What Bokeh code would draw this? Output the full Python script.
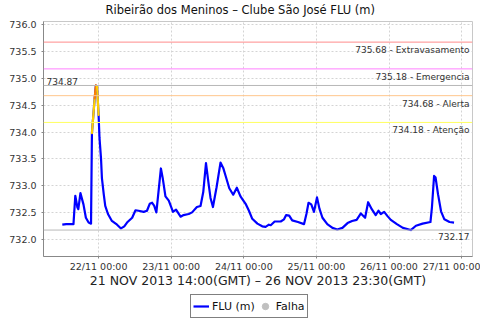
import pandas as pd
from bokeh.plotting import figure
from bokeh.layouts import column
from bokeh.models import (Range1d, FixedTicker, DatetimeTickFormatter, NumeralTickFormatter,
                          Span, Label, Legend, LegendItem)
from bokeh.embed import file_html
from bokeh.resources import INLINE

title_text = "Ribeirão dos Meninos – Clube São José FLU (m)"
axis_title = "21 NOV 2013 14:00(GMT) – 26 NOV 2013 23:30(GMT)"
series_name = "FLU (m)"
failure_name = "Falha"
start_local = "2013-11-21 00:00"

# hours after 21/11 00:00 (local time shown on the axis)
hours = [12.0, 13.3, 15.2, 15.7, 16.3, 17.0, 17.3, 18.0, 19.0, 19.8,
         20.7, 21.5, 21.8, 22.7, 23.1, 23.5, 24.0, 24.3, 24.8, 25.1,
         25.7, 26.2, 27.1, 28.4, 30.1, 31.4, 32.5, 33.4, 35.1, 36.2,
         37.2, 38.9, 40.0, 40.9, 41.7, 42.4, 43.1, 44.6, 45.2, 46.1,
         47.2, 48.6, 49.6, 51.1, 52.1, 53.8, 54.9, 56.5, 57.7, 58.6,
         59.5, 60.4, 61.0, 61.8, 63.0, 64.3, 65.2, 66.0, 67.2, 68.5,
         69.7, 70.9, 72.6, 73.7, 74.8, 76.5, 78.1, 79.2, 80.3, 80.9,
         82.2, 84.2, 85.3, 86.0, 87.0, 88.0, 89.9, 91.9, 92.7, 93.4,
         94.3, 95.2, 96.2, 97.0, 98.0, 99.6, 101.3, 102.9, 104.6, 106.3,
         107.8, 109.3, 110.7, 112.1, 113.1, 114.3, 115.6, 116.5, 117.3, 118.4,
         119.5, 120.6, 122.6, 124.6, 127.2, 128.9, 131.1, 133.7, 134.2, 134.9,
         135.4, 136.2, 137.2, 138.3, 140.0, 141.5]

levels = [732.27, 732.28, 732.28, 732.28, 732.81, 732.59, 732.56, 732.86, 732.65, 732.40,
          732.31, 732.29, 733.98, 734.63, 734.87, 734.85, 734.32, 733.89, 733.51, 733.14,
          732.84, 732.62, 732.47, 732.34, 732.27, 732.20, 732.24, 732.31, 732.40, 732.54,
          732.53, 732.51, 732.53, 732.66, 732.68, 732.62, 732.50, 733.32, 733.14, 732.80,
          732.72, 732.51, 732.55, 732.42, 732.45, 732.47, 732.50, 732.60, 732.62, 732.88,
          733.42, 733.02, 732.77, 732.60, 732.97, 733.43, 733.33, 733.18, 732.95, 732.83,
          732.96, 732.80, 732.66, 732.53, 732.38, 732.29, 732.24, 732.23, 732.27, 732.26,
          732.33, 732.33, 732.37, 732.45, 732.44, 732.35, 732.32, 732.28, 732.47, 732.68,
          732.65, 732.51, 732.78, 732.57, 732.40, 732.28, 732.21, 732.18, 732.21, 732.30,
          732.34, 732.36, 732.48, 732.40, 732.69, 732.56, 732.45, 732.53, 732.47, 732.51,
          732.43, 732.36, 732.28, 732.21, 732.17, 732.25, 732.29, 732.32, 732.60, 733.18,
          733.15, 732.84, 732.52, 732.37, 732.32, 732.31]

# no failure (Falha) readings in this period
failure_hours = []
failure_levels = []

threshold_values = [735.68, 735.18, 734.68, 734.18]
threshold_names = ["Extravasamento", "Emergencia", "Alerta", "Atenção"]
threshold_colors = ["#ff8c8c", "#ff80ff", "#ffc68c", "#ffff60"]

day_ticks = ["2013-11-22", "2013-11-23", "2013-11-24", "2013-11-25", "2013-11-26", "2013-11-27"]
y_ticks = [732.0, 732.5, 733.0, 733.5, 734.0, 734.5, 735.0, 735.5, 736.0]

FONT = "DejaVu Sans"
base = pd.Timestamp(start_local)
EPOCH = pd.Timestamp("1970-01-01")


def ms(ts):
    return (ts - EPOCH) / pd.Timedelta(milliseconds=1)


times = [base + pd.Timedelta(hours=h) for h in hours]

x_start = ms(base + pd.Timedelta(hours=5.79))
x_end = ms(base + pd.Timedelta(hours=147.6))

p = figure(width=480, height=294, x_axis_type="datetime",
           x_range=Range1d(x_start, x_end), y_range=Range1d(731.676, 736.065),
           output_backend="svg", toolbar_location=None,
           min_border_left=43, min_border_right=8, min_border_top=19, min_border_bottom=38)
p.background_fill_color = "white"
p.border_fill_color = "white"
p.outline_line_color = "#c8c8c8"
p.outline_line_width = 1

p.title.text = title_text
p.title.text_font = FONT
p.title.text_font_size = "11.5px"
p.title.text_font_style = "normal"
p.title.text_color = "#111111"
p.title.align = "left"
p.title.offset = 62
p.title.vertical_align = "top"
p.title.standoff = 5

# axes
xa = p.xaxis[0]
xa.ticker = FixedTicker(ticks=[ms(pd.Timestamp(d)) for d in day_ticks])
xa.formatter = DatetimeTickFormatter(days="%d/%m %H:%M", months="%d/%m %H:%M",
                                     hours="%d/%m %H:%M")
xa.axis_label = axis_title
xa.axis_label_text_font = FONT
xa.axis_label_text_font_size = "12.5px"
xa.axis_label_text_font_style = "normal"
xa.axis_label_text_color = "#222222"
xa.axis_label_standoff = -2
ya = p.yaxis[0]
ya.ticker = FixedTicker(ticks=y_ticks)
ya.formatter = NumeralTickFormatter(format="0.0")
for ax in (xa, ya):
    ax.axis_line_color = "#888888"
    ax.major_tick_line_color = "#888888"
    ax.major_tick_out = 2
    ax.major_tick_in = 0
    ax.minor_tick_out = 0
    ax.minor_tick_in = 0
    ax.major_label_text_font = FONT
    ax.major_label_text_font_size = "9.5px"
    ax.major_label_text_color = "#333333"
xa.major_label_standoff = 2
ya.major_label_standoff = 5

for g in (p.xgrid[0], p.ygrid[0]):
    g.grid_line_color = "#d4d4d4"
    g.grid_line_dash = "2 2"
    g.grid_line_width = 1

# threshold lines and labels
for val, name, col in zip(threshold_values, threshold_names, threshold_colors):
    p.add_layout(Span(location=val, dimension="width", line_color=col, line_width=1))
    p.add_layout(Label(x=x_end, y=val, x_offset=-3, y_offset=-3, text=f"{val:.2f} - {name}",
                       text_align="right", text_baseline="top", text_font=FONT,
                       text_font_size="9px", text_color="#333333"))

vmax = max(levels)
vmin = min(levels)
p.add_layout(Span(location=vmax, dimension="width", line_color="#b8b8b8", line_width=1))
p.add_layout(Span(location=vmin, dimension="width", line_color="#b8b8b8", line_width=1))
p.add_layout(Label(x=x_start, y=vmax, x_offset=3, y_offset=4, text=f"{vmax:.2f}",
                   text_align="left", text_baseline="alphabetic", text_font=FONT,
                   text_font_size="9px", text_color="#333333"))
p.add_layout(Label(x=x_end, y=vmin, x_offset=-3, y_offset=-3, text=f"{vmin:.2f}",
                   text_align="right", text_baseline="top", text_font=FONT,
                   text_font_size="9px", text_color="#333333"))

# main series
SERIES_COLOR = "#0000ff"
FAIL_COLOR = "#c0c0c0"
p.line(times, levels, line_color=SERIES_COLOR, line_width=2.2, line_join="round")

# colour segments above the alert levels (coloured by the end point's level)
x0, y0, x1, y1, cols = [], [], [], [], []
for i in range(1, len(levels)):
    v = levels[i]
    if v >= threshold_values[2]:
        c = "#ff8000"
    elif v >= threshold_values[3]:
        c = "#ffd000"
    else:
        continue
    x0.append(times[i - 1]); y0.append(levels[i - 1])
    x1.append(times[i]); y1.append(v); cols.append(c)
p.segment(x0=x0, y0=y0, x1=x1, y1=y1, line_color=cols, line_width=2.2, line_cap="round")

fx = [base + pd.Timedelta(hours=h) for h in failure_hours]
if fx:
    p.scatter(x=fx, y=failure_levels, size=9, fill_color=FAIL_COLOR, line_color=FAIL_COLOR)

# legend strip below the chart
lg = figure(width=480, height=26, output_backend="svg", toolbar_location=None,
            min_border=0, x_axis_location=None, y_axis_location=None,
            x_range=Range1d(0, 1), y_range=Range1d(0, 1))
lg.outline_line_color = None
lg.xgrid.visible = False
lg.ygrid.visible = False
lg.background_fill_color = "white"
lg.border_fill_color = "white"
r_line = lg.line(x=[float("nan")], y=[float("nan")], line_color=SERIES_COLOR, line_width=2.2)
r_fail = lg.scatter(x=[float("nan")], y=[float("nan")], size=9,
                    fill_color=FAIL_COLOR, line_color=FAIL_COLOR)
legend = Legend(items=[LegendItem(label=series_name, renderers=[r_line]),
                       LegendItem(label=failure_name, renderers=[r_fail])],
                orientation="horizontal", location=(147, 2))
legend.border_line_color = "black"
legend.border_line_width = 1
legend.background_fill_color = "white"
legend.background_fill_alpha = 1
legend.label_text_font = FONT
legend.label_text_font_size = "11px"
legend.label_text_color = "#111111"
legend.glyph_width = 16
legend.glyph_height = 18
legend.label_standoff = 3
legend.spacing = 2
legend.padding = 2
legend.margin = 0
legend.label_height = 12
lg.add_layout(legend)

layout = column(p, lg, spacing=0)
open("out.html", "w").write(file_html(layout, INLINE))
